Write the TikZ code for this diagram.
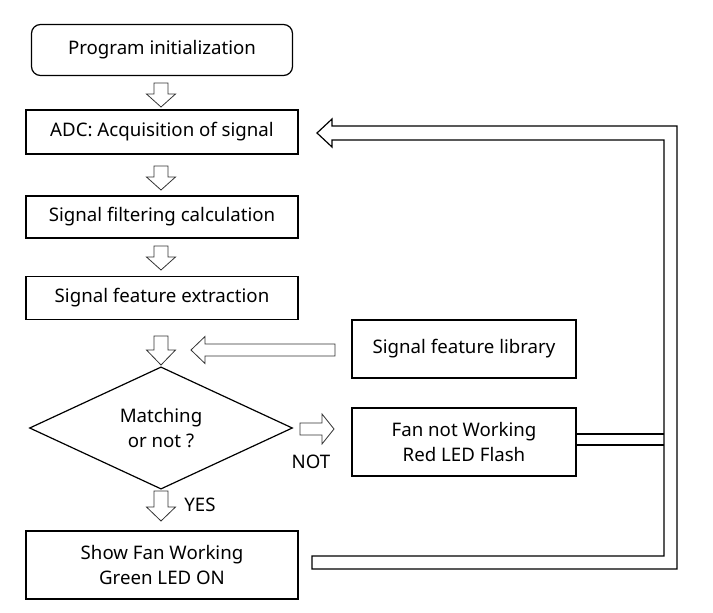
\documentclass[tikz,border=0pt]{standalone}
\usepackage{fontspec}
\setmainfont{Noto Sans}
\usetikzlibrary{shapes.geometric,positioning}

\def\pxu{0.75pt}
\tikzset{
  procbox/.style={draw, line width=0.9pt, inner sep=0pt, align=center,
    minimum width=272*\pxu, font=\fontsize{14}{19}\selectfont},
  hollowline/.style={draw=black!80, line width=0.6pt},
  % hollow block arrow: length, shaft half width, head half width, head length
  pics/hollowarrow/.style n args={4}{code={
    \draw[hollowline] (0,-#2) -- (#1-#4,-#2) -- (#1-#4,-#3) -- (#1,0)
      -- (#1-#4,#3) -- (#1-#4,#2) -- (0,#2) -- cycle;}},
  pipe/.style={draw, line width=0.9pt}
}

\begin{document}
\begin{tikzpicture}[x=\pxu, y=-\pxu]
\useasboundingbox (0,0) rectangle (713,613);

% main column
\node[procbox, rounded corners=9*\pxu, minimum width=261*\pxu, minimum height=51*\pxu] (init) at (162,50) {Program initialization};
\node[procbox, minimum height=44*\pxu] (adc) at (162,132) {ADC: Acquisition of signal};
\node[procbox, minimum height=42*\pxu] (filt) at (162,217) {Signal filtering calculation};
\node[procbox, minimum height=43*\pxu] (extr) at (162,298) {Signal feature extraction};
\node[procbox, shape=diamond, minimum width=263*\pxu, minimum height=106*\pxu] (match) at (161,428) {Matching\\or not ?};
\node[procbox, minimum height=68*\pxu] (show) at (162,565) {Show Fan Working\\Green LED ON};

% right column
\node[procbox, minimum width=224*\pxu, minimum height=58*\pxu] (lib) at (464,349) {Signal feature library};
\node[procbox, minimum width=224*\pxu, minimum height=68*\pxu] (fan) at (464,442) {Fan not Working\\Red LED Flash};

% hollow arrows
\pic[rotate=-90] (a1) at (161,83) {hollowarrow={24}{7}{14.5}{13}};
\pic[rotate=-90] (a2) at (161,166) {hollowarrow={24}{7}{14.5}{13}};
\pic[rotate=-90] (a3) at (161,246) {hollowarrow={24}{7}{14.5}{13}};
\pic[rotate=-90] (a4) at (161,336) {hollowarrow={29}{7}{14.5}{15}};
\pic[rotate=-90] (a5) at (161,491) {hollowarrow={30}{7}{14.5}{14}};
\pic[rotate=180] (alib) at (335,350) {hollowarrow={144}{6}{13.5}{14}};
\pic (anot) at (300,429) {hollowarrow={34}{6}{15}{12}};

\node[font=\fontsize{14}{17}\selectfont] (tnot) at (311,462) {NOT};
\node[font=\fontsize{14}{17}\selectfont] (tyes) at (200,505) {YES};

% feedback pipe
\draw[pipe] (312,556) -- (664,556) -- (664,140) -- (332,140) -- (332,147)
  -- (317,133) -- (332,119) -- (332,126) -- (677,126) -- (677,569)
  -- (312,569) -- cycle;
\draw[pipe] (fan.east |- 0,434) -- (664,434);
\draw[pipe] (fan.east |- 0,445) -- (664,445);
\end{tikzpicture}
\end{document}
